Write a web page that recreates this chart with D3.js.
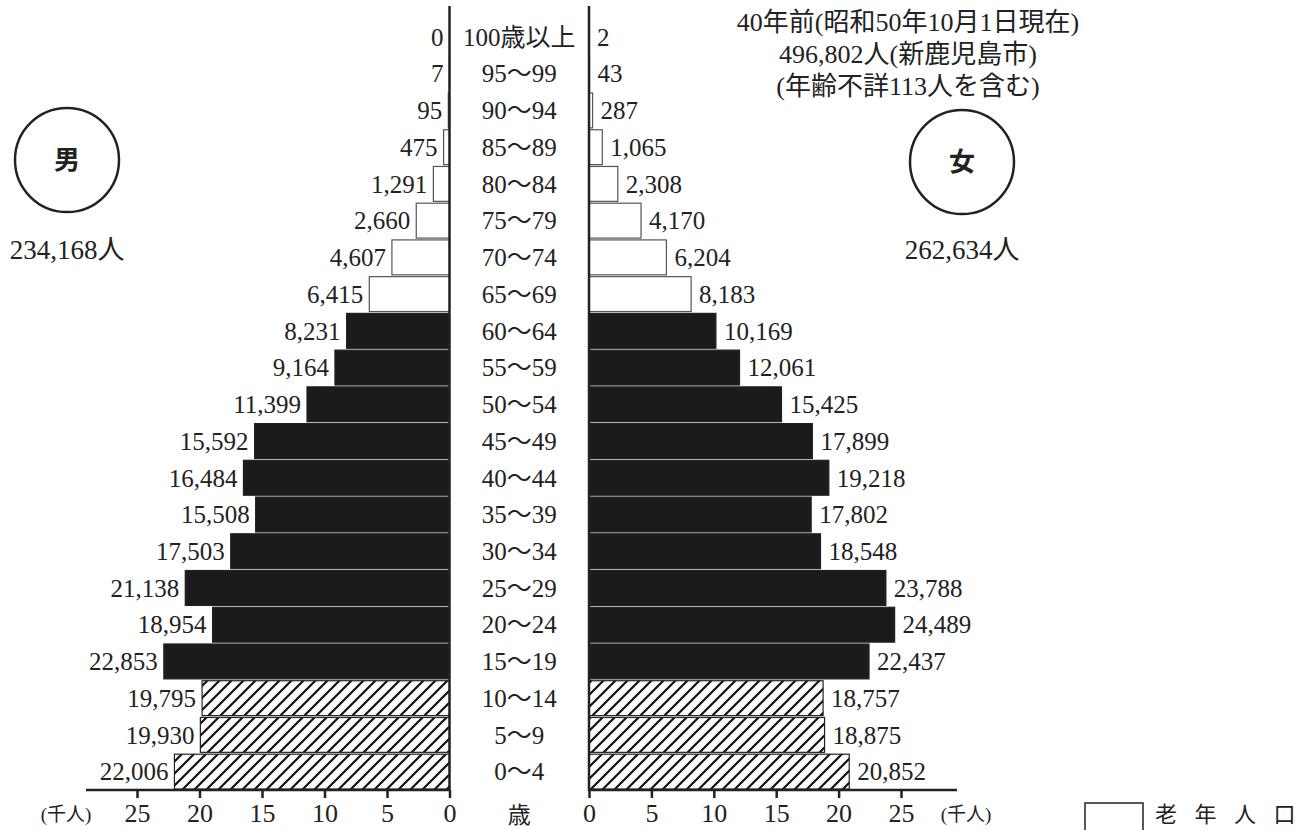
<!DOCTYPE html>
<html><head><meta charset="utf-8">
<script src="https://cdn.jsdelivr.net/npm/d3@7"></script>
<style>body{margin:0;background:#fff}</style>
</head><body><svg id="c" width="1309" height="830"></svg>
<script>
const ages = ["100歳以上","95～99","90～94","85～89","80～84","75～79","70～74","65～69","60～64","55～59","50～54","45～49","40～44","35～39","30～34","25～29","20～24","15～19","10～14","5～9","0～4"];
const male = [0,7,95,475,1291,2660,4607,6415,8231,9164,11399,15592,16484,15508,17503,21138,18954,22853,19795,19930,22006];
const female = [2,43,287,1065,2308,4170,6204,8183,10169,12061,15425,17899,19218,17802,18548,23788,24489,22437,18757,18875,20852];
const ageGroup = ["old","old","old","old","old","old","old","old","work","work","work","work","work","work","work","work","work","work","young","young","young"];
const tickValues = [0,5,10,15,20,25];
const titleLines = ["40年前(昭和50年10月1日現在)","496,802人(新鹿児島市)","(年齢不詳113人を含む)"];
const maleTotal = "234,168人", femaleTotal = "262,634人";
const legendLabel = "老 年 人 口";

const FONT = "'Liberation Serif','Noto Sans CJK JP',serif";
const svg = d3.select("#c");
const defs = svg.append("defs");
const pat = defs.append("pattern").attr("id","hatch").attr("patternUnits","userSpaceOnUse")
  .attr("width",12).attr("height",12);
pat.append("rect").attr("width",12).attr("height",12).attr("fill","#fff");
pat.append("path").attr("d","M0,12 L12,0 M-3,3 L3,-3 M9,15 L15,9")
  .attr("stroke","#111").attr("stroke-width",2.2);

const xL = d3.scaleLinear().domain([0,25]).range([449.5,137]);
const xR = d3.scaleLinear().domain([0,25]).range([589,901]);
const y = d3.scaleBand().domain(ages).range([18.6,790]).paddingInner(0.05).paddingOuter(0.025);

const fillOf = g => g==="old" ? "#fff" : g==="work" ? "#1b1b1b" : "url(#hatch)";
const strokeOf = g => g==="old" ? "#555" : "#222";
const fmt = d3.format(",");

const rows = ages.map((a,i)=>({age:a,m:male[i],f:female[i],g:ageGroup[i]}));

svg.append("g").selectAll("rect").data(rows.filter(d=>d.m>0)).join("rect")
  .attr("x",d=>xL(d.m/1000)).attr("y",d=>y(d.age))
  .attr("width",d=>xL(0)-xL(d.m/1000)).attr("height",y.bandwidth())
  .attr("fill",d=>fillOf(d.g)).attr("stroke",d=>strokeOf(d.g)).attr("stroke-width",1.2);
svg.append("g").selectAll("rect").data(rows.filter(d=>d.f>0)).join("rect")
  .attr("x",xR(0)).attr("y",d=>y(d.age))
  .attr("width",d=>xR(d.f/1000)-xR(0)).attr("height",y.bandwidth())
  .attr("fill",d=>fillOf(d.g)).attr("stroke",d=>strokeOf(d.g)).attr("stroke-width",1.2);

svg.append("g").selectAll("text").data(rows).join("text")
  .attr("x",d=>xL(d.m/1000)-6).attr("y",d=>y(d.age)+y.bandwidth()/2).attr("dy","0.35em")
  .attr("text-anchor","end").attr("font-family",FONT).attr("font-size",25).attr("fill","#222")
  .text(d=>fmt(d.m));
svg.append("g").selectAll("text").data(rows).join("text")
  .attr("x",d=>xR(d.f/1000)+8).attr("y",d=>y(d.age)+y.bandwidth()/2).attr("dy","0.35em")
  .attr("text-anchor","start").attr("font-family",FONT).attr("font-size",25).attr("fill","#222")
  .text(d=>fmt(d.f));

svg.append("g").selectAll("text").data(rows).join("text")
  .attr("x",(xL(0)+xR(0))/2).attr("y",d=>y(d.age)+y.bandwidth()/2).attr("dy","0.35em")
  .attr("text-anchor","middle").attr("font-family",FONT).attr("font-size",25).attr("fill","#222")
  .text(d=>d.age);

[xL(0),xR(0)].forEach(x=>svg.append("line").attr("x1",x).attr("x2",x).attr("y1",6).attr("y2",791)
  .attr("stroke","#222").attr("stroke-width",2.5));

function styleAxis(g){
  g.select(".domain").remove();
  g.selectAll(".tick line").attr("stroke","#222").attr("stroke-width",2.5);
  g.selectAll(".tick text").attr("font-family",FONT).attr("font-size",26).attr("fill","#222");
}
svg.append("g").attr("transform","translate(0,790)")
  .call(d3.axisBottom(xL).tickValues(tickValues).tickSize(8).tickPadding(6).tickFormat(d3.format("d"))).call(styleAxis);
svg.append("g").attr("transform","translate(0,790)")
  .call(d3.axisBottom(xR).tickValues(tickValues).tickSize(8).tickPadding(6).tickFormat(d3.format("d"))).call(styleAxis);
svg.append("line").attr("x1",86).attr("x2",xL(0)).attr("y1",790).attr("y2",790).attr("stroke","#222").attr("stroke-width",2.5);
svg.append("line").attr("x1",xR(0)).attr("x2",957).attr("y1",790).attr("y2",790).attr("stroke","#222").attr("stroke-width",2.5);

svg.append("text").attr("x",66).attr("y",821).attr("text-anchor","middle").attr("font-family",FONT)
  .attr("font-size",19).attr("fill","#222").text("(千人)");
svg.append("text").attr("x",966).attr("y",821).attr("text-anchor","middle").attr("font-family",FONT)
  .attr("font-size",19).attr("fill","#222").text("(千人)");
svg.append("text").attr("x",(xL(0)+xR(0))/2).attr("y",823).attr("text-anchor","middle").attr("font-family",FONT)
  .attr("font-size",23).attr("fill","#222").text("歳");

svg.append("g").selectAll("text").data(titleLines).join("text")
  .attr("x",908).attr("y",(d,i)=>31+i*32).attr("text-anchor","middle")
  .attr("font-family",FONT).attr("font-size",26).attr("fill","#222").text(d=>d);

[[67,160,"男",maleTotal],[962,162,"女",femaleTotal]].forEach(([cx,cy,t,tot])=>{
  svg.append("circle").attr("cx",cx).attr("cy",cy).attr("r",52).attr("fill","none")
    .attr("stroke","#222").attr("stroke-width",2.5);
  svg.append("text").attr("x",cx).attr("y",cy).attr("dy","0.36em").attr("text-anchor","middle")
    .attr("font-family","'Noto Sans CJK JP',sans-serif").attr("font-weight",700).attr("font-size",26)
    .attr("fill","#222").text(t);
  svg.append("text").attr("x",cx).attr("y",259).attr("text-anchor","middle")
    .attr("font-family",FONT).attr("font-size",27).attr("fill","#222").text(tot);
});

svg.append("rect").attr("x",1085).attr("y",803).attr("width",58).attr("height",40)
  .attr("fill","#fff").attr("stroke","#222").attr("stroke-width",1.5);
svg.append("text").attr("x",1155).attr("y",822).attr("font-family",FONT).attr("font-size",22)
  .attr("letter-spacing",6).attr("fill","#222").text(legendLabel);
</script></body></html>
